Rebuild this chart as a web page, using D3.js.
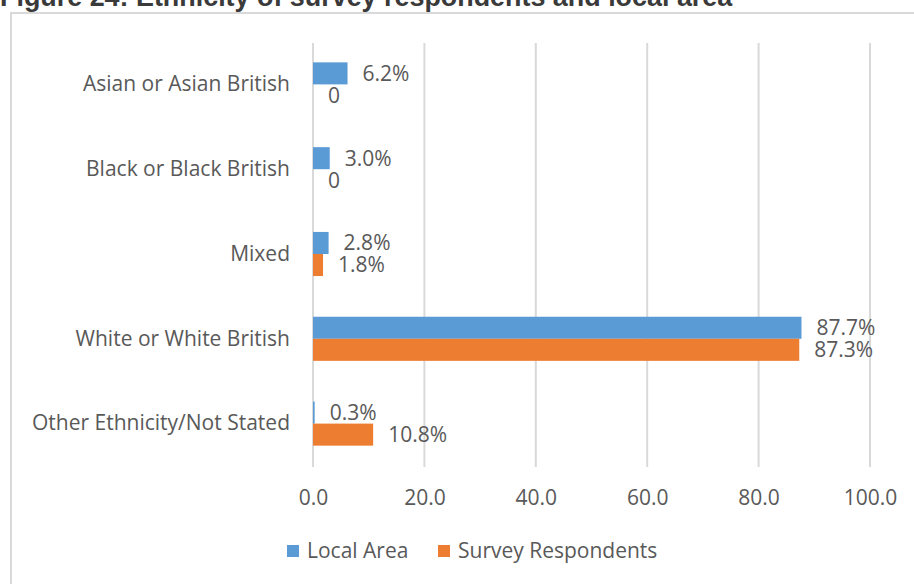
<!DOCTYPE html>
<html>
<head>
<meta charset="utf-8">
<script src="https://cdn.jsdelivr.net/npm/d3@7/dist/d3.min.js"></script>
<style>
  html, body { margin: 0; padding: 0; background: #fff; }
  svg { display: block; }
</style>
</head>
<body>
<svg id="chart" width="914" height="584"></svg>
<script>
// Ethnicity categories, top to bottom
const categories = [
  "Asian or Asian British",
  "Black or Black British",
  "Mixed",
  "White or White British",
  "Other Ethnicity/Not Stated"
];
const seriesNames = ["Local Area", "Survey Respondents"];
const localArea = [6.2, 3.0, 2.8, 87.7, 0.3];
const surveyRespondents = [0, 0, 1.8, 87.3, 10.8];
const xTicks = [0, 20, 40, 60, 80, 100];

const colors = { "Local Area": "#5B9BD5", "Survey Respondents": "#ED7D31" };
const textColor = "#595959";
const font = "'Open Sans', sans-serif";
const fontSize = 21;

const svg = d3.select("#chart");

// Title (runs off the top edge of the page)
svg.append("text")
  .attr("x", 0).attr("y", 6)
  .attr("font-family", "'Liberation Sans', Arial, sans-serif")
  .attr("font-weight", "bold")
  .attr("font-size", 26.9)
  .attr("fill", "#3a3a3a")
  .text("Figure 24: Ethnicity of survey respondents and local area");

// Chart frame
svg.append("rect")
  .attr("x", 11).attr("y", 13)
  .attr("width", 1000).attr("height", 700)
  .attr("fill", "none")
  .attr("stroke", "#d9d9d9")
  .attr("stroke-width", 2);

const x = d3.scaleLinear().domain([0, 100]).range([313, 870]);
const y = d3.scaleBand().domain(categories).range([42, 466])
  .paddingInner(0.48).paddingOuter(0.24);
const ySub = d3.scaleBand().domain(seriesNames).range([0, y.bandwidth()]);

// Vertical gridlines
svg.append("g")
  .selectAll("line")
  .data(xTicks)
  .join("line")
  .attr("x1", d => x(d)).attr("x2", d => x(d))
  .attr("y1", 43).attr("y2", 467)
  .attr("stroke", "#d9d9d9")
  .attr("stroke-width", 2);

// X axis labels
const xAxis = d3.axisBottom(x).tickValues(xTicks).tickFormat(d3.format(".1f")).tickSize(0).tickPadding(0);
const gx = svg.append("g").attr("transform", "translate(0,498)").call(xAxis);
gx.select(".domain").remove();
gx.selectAll("text")
  .attr("font-family", font)
  .attr("font-size", fontSize)
  .attr("fill", textColor)
  .attr("dy", "0.35em");

// Category labels
const yAxis = d3.axisLeft(y).tickSize(0).tickPadding(0);
const gy = svg.append("g").attr("transform", "translate(290,0)").call(yAxis);
gy.select(".domain").remove();
gy.selectAll("text")
  .attr("font-family", font)
  .attr("font-size", fontSize)
  .attr("fill", textColor);

// Bars and value labels
const rows = categories.map((c, i) => ({
  category: c,
  values: [
    { series: "Local Area", value: localArea[i] },
    { series: "Survey Respondents", value: surveyRespondents[i] }
  ]
}));

const groups = svg.append("g")
  .selectAll("g")
  .data(rows)
  .join("g")
  .attr("transform", d => `translate(0,${y(d.category)})`);

groups.selectAll("rect")
  .data(d => d.values)
  .join("rect")
  .attr("x", x(0))
  .attr("y", d => ySub(d.series))
  .attr("width", d => x(d.value) - x(0))
  .attr("height", ySub.bandwidth())
  .attr("fill", d => colors[d.series]);

groups.selectAll("text")
  .data(d => d.values)
  .join("text")
  .attr("x", d => x(d.value) + 15)
  .attr("y", d => ySub(d.series) + ySub.bandwidth() / 2)
  .attr("dy", "0.35em")
  .attr("font-family", font)
  .attr("font-size", fontSize)
  .attr("fill", textColor)
  .text(d => d.value === 0 ? "0" : d.value.toFixed(1) + "%");

// Legend
const legendItems = [
  { name: "Local Area", x: 287 },
  { name: "Survey Respondents", x: 438 }
];
const legend = svg.append("g")
  .selectAll("g")
  .data(legendItems)
  .join("g")
  .attr("transform", d => `translate(${d.x},545)`);
legend.append("rect")
  .attr("width", 12).attr("height", 12)
  .attr("fill", d => colors[d.name]);
legend.append("text")
  .attr("x", 20).attr("y", 6)
  .attr("dy", "0.35em")
  .attr("font-family", font)
  .attr("font-size", fontSize)
  .attr("fill", textColor)
  .text(d => d.name);
</script>
</body>
</html>
